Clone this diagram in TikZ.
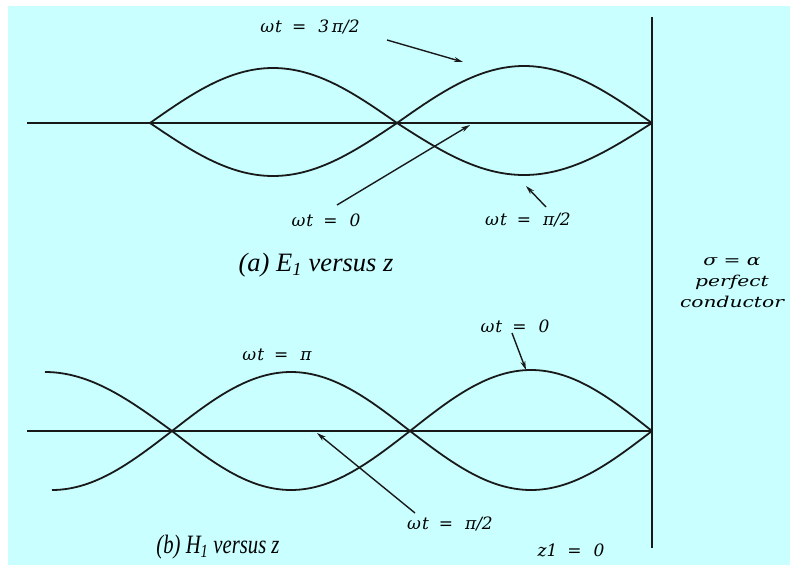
\documentclass[tikz,border=0pt]{standalone}
\usepackage{fontspec}
\usepackage{graphicx}
\newfontfamily\lblfont{DejaVu Serif}
\newfontfamily\capfont{Liberation Serif}
\usetikzlibrary{arrows.meta}
\definecolor{bgcyan}{RGB}{202,255,255}
\definecolor{inkline}{RGB}{25,25,25}
\newcommand{\wt}{ω\kern1pt t}
\newcommand{\eqgap}{\hspace{10pt}=\hspace{12pt}}
\newcommand{\widen}[1]{\scalebox{1.35}[1]{#1}}
\tikzset{
  wave/.style={inkline, line width=1.8pt},
  ptr/.style={inkline, line width=1.4pt, -{Stealth[length=9pt,width=5pt]}},
  lbl/.style={font=\lblfont\itshape\fontsize{17}{21}\selectfont, inner sep=0pt},
  walltext/.style={font=\lblfont\itshape\fontsize{15}{21}\selectfont, inner sep=0pt, align=center},
  captext/.style={font=\capfont\itshape\fontsize{26.5}{28}\selectfont, inner sep=0pt},
}

\begin{document}
\begin{tikzpicture}[x=1pt,y=-1pt]
\useasboundingbox (0,0) rectangle (790,565);
\fill [white] (0,0) rectangle (790,565);
\fill [bgcyan] (8,6) rectangle (790,565);
% zero crossings
\coordinate (e0) at (150,123);
\coordinate (e1) at (397,123);
\coordinate (e2) at (652,123);
\coordinate (h0) at (172,431);
\coordinate (h1) at (410,431);
\coordinate (h2) at (652,431);
% conductor wall and axes
\coordinate (walltop) at (652,17);
\coordinate (wallbot) at (652,548);
\coordinate (eaxis) at (27,123);
\coordinate (haxis) at (27,431);
\draw [wave] (walltop) -- (wallbot);
\draw [wave] (eaxis) -- (e2);
\draw [wave] (haxis) -- (h2);
% E1 versus z
\draw [wave] (e0) sin (273,68) cos (e1) sin (524,66) cos (e2);
\draw [wave] (e0) sin (273,176) cos (e1) sin (524,175) cos (e2);
% H1 versus z
\draw [wave] (45,372) cos (h0) sin (291,490) cos (h1) sin (531,370) cos (h2);
\draw [wave] (52,490) cos (h0) sin (291,372) cos (h1) sin (531,490) cos (h2);
% labels (a)
\node [lbl] (wA) at (310,27) {\wt\eqgap 3\,π/2};
\node [lbl] (wB) at (326,220) {\wt\eqgap 0};
\node [lbl] (wC) at (528,220) {\wt\eqgap π/2};
\node [captext] (capE) at (316,265) {(a) E\textsubscript{1} versus z};
\coordinate (pA0) at (387,40);
\coordinate (pA1) at (463,62);
\coordinate (pB0) at (337,205);
\coordinate (pB1) at (470,125);
\coordinate (pC0) at (546,207);
\coordinate (pC1) at (526,186);
\draw [ptr] (pA0) -- (pA1);
\draw [ptr] (pB0) -- (pB1);
\draw [ptr] (pC0) -- (pC1);
% conductor
\node [walltext] (wall) at (732,283) {\widen{σ = α}\\\widen{perfect}\\\widen{conductor}};
% labels (b)
\node [lbl] (wD) at (515,326) {\wt\eqgap 0};
\node [lbl] (wE) at (277,355) {\wt\eqgap π};
\node [lbl] (wF) at (450,524) {\wt\eqgap π/2};
\node [captext] (capH) at (218,547) {\scalebox{0.78}[1]{(b) H\textsubscript{1} versus z}};
\node [lbl] (zero) at (571,550) {z1\eqgap 0};
\coordinate (pD0) at (512,333);
\coordinate (pD1) at (526,370);
\coordinate (pF0) at (415,513);
\coordinate (pF1) at (317,433);
\draw [ptr] (pD0) -- (pD1);
\draw [ptr] (pF0) -- (pF1);
\end{tikzpicture}
\end{document}
